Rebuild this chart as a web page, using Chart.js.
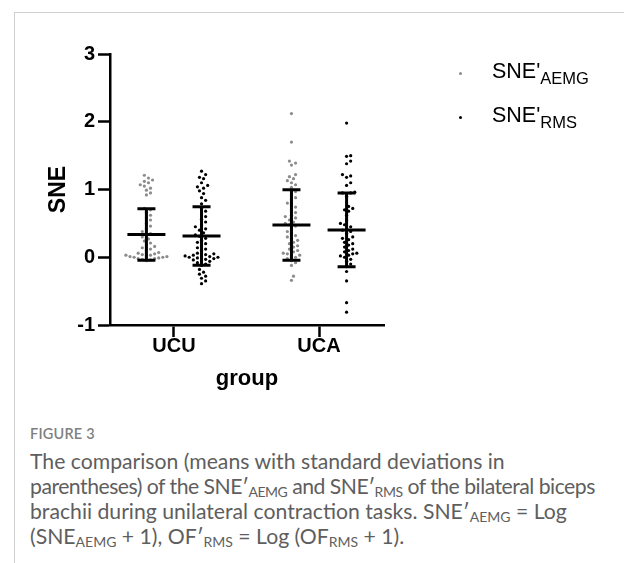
<!DOCTYPE html>
<html>
<head>
<meta charset="utf-8">
<script src="https://cdn.jsdelivr.net/npm/chart.js@4.4.1/dist/chart.umd.min.js"></script>
<style>
  html, body { margin: 0; padding: 0; background: #fff; }
  body { width: 624px; height: 563px; position: relative; overflow: hidden; font-family: "Liberation Sans", Arial, sans-serif; }
  .frame { position: absolute; left: 14px; top: 12px; right: 0; bottom: 0; border-left: 1px solid #cfcfcf; border-top: 1px solid #cfcfcf; }
  #wrap { position: absolute; left: 0; top: 0; width: 624px; height: 400px; }
  .leg { position: absolute; left: 492px; font-size: 21.5px; line-height: 24px; color: #000; white-space: nowrap; }
  .leg sub { font-size: 16.5px; vertical-align: -6px; line-height: 0; }
  .leg-dot { position: absolute; width: 3px; height: 3px; border-radius: 50%; }
  .caption { position: absolute; left: 30px; top: 424px; width: 594px; font-family: Lato, "Open Sans", sans-serif; color: #5e5e5e; white-space: nowrap; }
  .caption .fig { font-size: 14.5px; font-weight: 600; color: #808080; letter-spacing: 0.2px; line-height: 20px; }
  .caption p { font-size: 21.2px; line-height: 25px; margin: 5px 0 0; }
  .caption sub { font-size: 14px; vertical-align: -3px; line-height: 0; }
  .caption .tight { letter-spacing: -0.5px; }
</style>
</head>
<body>
<div class="frame"></div>
<div id="wrap"><canvas id="chart" width="624" height="400"></canvas></div>

<div class="leg-dot" style="left:459px; top:72px; background:#8c8c8c;"></div>
<div class="leg" style="top:59px;">SNE'<sub>AEMG</sub></div>
<div class="leg-dot" style="left:459px; top:116px; background:#000;"></div>
<div class="leg" style="top:103px;">SNE'<sub>RMS</sub></div>

<div class="caption">
  <div class="fig">FIGURE 3</div>
  <p>The comparison (means with standard deviations in<br><span class="tight">parentheses) of the SNE′<sub>AEMG</sub> and SNE′<sub>RMS</sub> of the bilateral biceps</span><br>brachii during unilateral contraction tasks. SNE′<sub>AEMG</sub> = Log<br>(SNE<sub>AEMG</sub> + 1), OF′<sub>RMS</sub> = Log (OF<sub>RMS</sub> + 1).</p>
</div>

<script>
  // groups on the x axis, ticks on the y axis
  const groups = ['UCU', 'UCA'];
  const yTicks = [-1, 0, 1, 2, 3];

  // SNE'AEMG values per group
  const aemgUCU = [1.21, 1.17, 1.14, 1.12, 1.10, 1.07, 1.05, 1.02, 0.99, 0.95, 0.92,
    0.72, 0.70, 0.66, 0.62, 0.58, 0.55, 0.50, 0.46, 0.42, 0.38, 0.35, 0.33, 0.30, 0.27,
    0.24, 0.21, 0.18, 0.16, 0.14, 0.12, 0.10,
    0.07, 0.06, 0.05, 0.04, 0.03, 0.03, 0.02, 0.01, 0.01, 0.00, 0.00, -0.01, -0.02,
    -0.02, -0.03, -0.04, -0.05];
  const aemgUCA = [2.12, 1.70, 1.42, 1.39, 1.36, 1.22, 1.19, 1.16, 1.13, 1.10, 1.07, 1.03,
    0.97, 0.92, 0.88, 0.85, 0.80, 0.78, 0.74, 0.70, 0.66, 0.62, 0.60, 0.58, 0.55, 0.52,
    0.50, 0.48, 0.46, 0.42, 0.38, 0.35, 0.32, 0.30, 0.28, 0.25, 0.22, 0.20, 0.17, 0.15,
    0.12, 0.10, 0.08, 0.06, 0.05, 0.03, 0.02, 0.00, -0.02, -0.05, -0.08, -0.12, -0.28, -0.34];

  // SNE'RMS values per group
  const rmsUCU = [1.27, 1.22, 1.18, 1.16, 1.10, 1.06, 1.04, 1.02, 0.98, 0.94, 0.88, 0.84, 0.79,
    0.72, 0.68, 0.64, 0.60, 0.56, 0.52, 0.48, 0.45, 0.42, 0.40, 0.36, 0.33, 0.31, 0.28,
    0.25, 0.22, 0.20, 0.17, 0.14, 0.12, 0.10,
    0.06, 0.05, 0.04, 0.03, 0.02, 0.02, 0.01, 0.00, 0.00, -0.01, -0.02, -0.03, -0.04,
    -0.05, -0.06, -0.08, -0.10, -0.12,
    -0.18, -0.22, -0.25, -0.28, -0.31, -0.35, -0.39];
  const rmsUCA = [1.98, 1.50, 1.49, 1.42, 1.38, 1.22, 1.20, 1.18, 1.10, 1.06, 0.96, 0.95, 0.95,
    0.90, 0.75, 0.72, 0.70, 0.68, 0.62, 0.55, 0.50, 0.48, 0.45, 0.42, 0.40, 0.38, 0.35,
    0.30, 0.28, 0.26, 0.22, 0.20, 0.18, 0.15, 0.12, 0.10, 0.08, 0.06, 0.05, 0.03, 0.02,
    0.00, -0.03, -0.06, -0.10, -0.14, -0.21, -0.35, -0.67, -0.81];

  // means and standard deviations
  const aemgMean = [0.335, 0.475];
  const aemgSD = [0.38, 0.52];
  const rmsMean = [0.313, 0.404];
  const rmsSD = [0.431, 0.546];

  const SERIES_OFFSET = 0.19;   // x shift of each series from the group centre
  const PX_PER_X = 145;         // approx. pixels per x unit, only used to space the swarm
  const PX_PER_Y = 67.75;       // approx. pixels per y unit
  const DOT_GAP = 4.1;          // minimum distance between dot centres, px

  // beeswarm: each dot goes as close to the centre as it can without touching others
  function swarm(values, centre) {
    const placed = [];
    values.slice().sort((a, b) => a - b).forEach(v => {
      const yp = v * PX_PER_Y;
      let dx = null;
      for (let k = 0; dx === null && k < 60; k++) {
        const cands = k === 0 ? [0] : [k * DOT_GAP / 2, -k * DOT_GAP / 2];
        for (const c of cands) {
          const free = placed.every(p => (p.dx - c) ** 2 + (p.yp - yp) ** 2 >= DOT_GAP * DOT_GAP);
          if (free) { dx = c; break; }
        }
      }
      placed.push({ dx: dx, yp: yp, v: v });
    });
    return placed.map(p => ({ x: centre + p.dx / PX_PER_X, y: p.v }));
  }

  const summaries = [
    { mean: aemgMean, sd: aemgSD, offset: -SERIES_OFFSET },
    { mean: rmsMean, sd: rmsSD, offset: SERIES_OFFSET }
  ];

  // mean line with SD whiskers, drawn on top of the dots
  const errorBars = {
    id: 'errorBars',
    afterDatasetsDraw(chart) {
      const { ctx, scales: { x, y } } = chart;
      ctx.save();
      ctx.strokeStyle = '#000';
      ctx.lineWidth = 3;
      summaries.forEach(s => {
        s.mean.forEach((m, i) => {
          const cx = x.getPixelForValue(i + 1 + s.offset);
          const yTop = y.getPixelForValue(m + s.sd[i]);
          const yBot = y.getPixelForValue(m - s.sd[i]);
          const yMean = y.getPixelForValue(m);
          ctx.beginPath();
          ctx.moveTo(cx, yTop); ctx.lineTo(cx, yBot);
          ctx.moveTo(cx - 9, yTop); ctx.lineTo(cx + 9, yTop);
          ctx.moveTo(cx - 9, yBot); ctx.lineTo(cx + 9, yBot);
          ctx.moveTo(cx - 19, yMean); ctx.lineTo(cx + 19, yMean);
          ctx.stroke();
        });
      });
      ctx.restore();
    }
  };

  const axisFont = { family: '"Liberation Sans", Arial, sans-serif', weight: 'bold' };

  new Chart(document.getElementById('chart'), {
    type: 'scatter',
    data: {
      datasets: [
        {
          label: "SNE'AEMG",
          data: swarm(aemgUCU, 1 - SERIES_OFFSET).concat(swarm(aemgUCA, 2 - SERIES_OFFSET)),
          backgroundColor: '#8c8c8c',
          borderWidth: 0,
          pointRadius: 1.6
        },
        {
          label: "SNE'RMS",
          data: swarm(rmsUCU, 1 + SERIES_OFFSET).concat(swarm(rmsUCA, 2 + SERIES_OFFSET)),
          backgroundColor: '#000',
          borderWidth: 0,
          pointRadius: 1.6
        }
      ]
    },
    options: {
      responsive: false,
      animation: false,
      layout: { padding: { top: 54, right: 240, left: 0, bottom: 0 } },
      scales: {
        x: {
          type: 'linear',
          min: 0.559,
          max: 2.448,
          afterBuildTicks: s => { s.ticks = groups.map((g, i) => ({ value: i + 1 })); },
          afterFit: s => { s.height = 75; },
          ticks: {
            callback: v => groups[v - 1],
            color: '#000',
            padding: -3,
            font: Object.assign({ size: 20 }, axisFont)
          },
          grid: { drawOnChartArea: false, drawTicks: true, tickLength: 12, tickWidth: 2.5, tickColor: '#000' },
          border: { display: true, color: '#000', width: 2.5 },
          title: {
            display: true,
            text: 'group',
            color: '#000',
            padding: { top: 0, bottom: 8 },
            font: Object.assign({ size: 22 }, axisFont)
          }
        },
        y: {
          min: -1,
          max: 3,
          afterBuildTicks: s => { s.ticks = yTicks.map(v => ({ value: v })); },
          afterFit: s => { s.width = 110; },
          ticks: {
            color: '#000',
            padding: 3,
            font: Object.assign({ size: 20 }, axisFont)
          },
          grid: { drawOnChartArea: false, drawTicks: true, tickLength: 12, tickWidth: 2.5, tickColor: '#000' },
          border: { display: true, color: '#000', width: 2.5 },
          title: {
            display: true,
            text: 'SNE',
            color: '#000',
            padding: { top: 45, bottom: 0 },
            font: Object.assign({ size: 23 }, axisFont)
          }
        }
      },
      plugins: {
        legend: { display: false },
        tooltip: { enabled: false }
      }
    },
    plugins: [errorBars]
  });
</script>
</body>
</html>
